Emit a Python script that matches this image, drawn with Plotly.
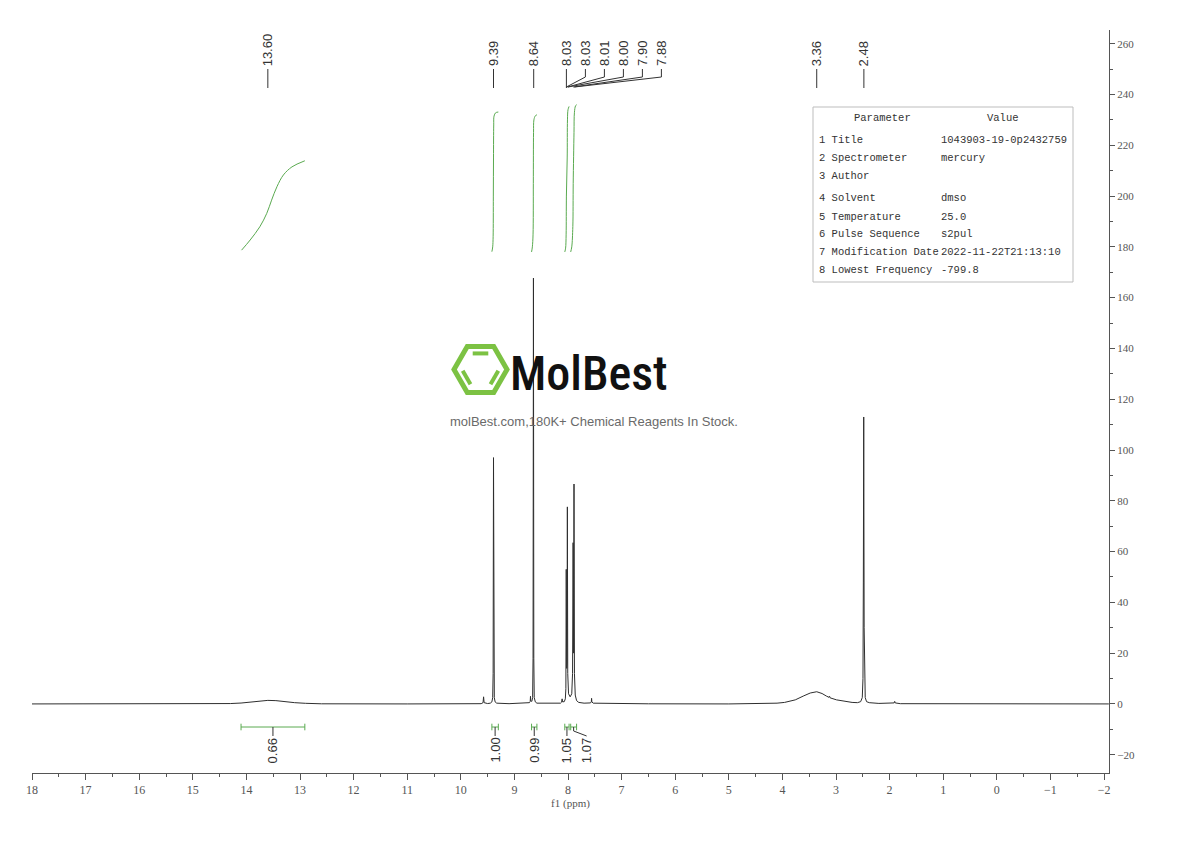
import math
import plotly.graph_objects as go

# ---------------- data ----------------
spec_ppm = [18.0, 16.0, 14.6, 14.3, 14.1, 13.95, 13.8, 13.6, 13.45, 13.3, 13.1, 12.9, 12.6, 11.0,
            9.8, 9.62, 9.585, 9.575, 9.565, 9.5, 9.45, 9.42, 9.405, 9.397, 9.39, 9.383, 9.375, 9.36, 9.33,
            9.1, 8.78, 8.72, 8.705, 8.70, 8.695, 8.675, 8.66, 8.652, 8.645, 8.638, 8.63, 8.61, 8.58,
            8.3, 8.14, 8.12, 8.11, 8.10, 8.07, 8.05, 8.04, 8.033, 8.025, 8.018, 8.012, 8.005, 7.99,
            7.96, 7.93, 7.915, 7.905, 7.895, 7.888, 7.88, 7.865, 7.84, 7.80, 7.70, 7.58, 7.565, 7.56,
            7.555, 7.53, 7.2, 6.5, 5.0, 4.4, 4.1, 3.96, 3.76, 3.6, 3.48, 3.36, 3.26, 3.18, 3.13, 3.12,
            3.11, 2.99, 2.85, 2.7, 2.6, 2.54, 2.51, 2.497, 2.49, 2.483, 2.475, 2.468, 2.455, 2.43, 2.38,
            2.2, 1.93, 1.915, 1.905, 1.895, 1.8, 1.0, 0.0, -1.0, -2.09]
spec_int = [0.0, 0.05, 0.0, 0.15, 0.35, 0.7, 1.1, 1.4, 1.3, 0.9, 0.5, 0.25, 0.05, 0.0,
            0.05, 0.1, 0.5, 2.8, 0.5, 0.15, 0.3, 0.8, 2.5, 12.0, 97.0, 12.0, 2.5, 0.8, 0.3,
            0.1, 0.2, 0.5, 1.0, 3.0, 1.2, 1.0, 2.5, 18.0, 167.7, 18.0, 2.5, 0.8, 0.3,
            0.2, 0.3, 0.7, 2.0, 0.8, 0.9, 2.0, 6.0, 53.0, 14.0, 16.0, 77.6, 12.0, 4.0,
            2.8, 4.0, 12.0, 63.5, 20.0, 86.6, 12.0, 3.5, 1.3, 0.6, 0.3, 0.4, 0.8, 2.2,
            0.8, 0.3, 0.15, 0.05, 0.0, 0.1, 0.3, 0.6, 1.6, 3.2, 4.3, 4.8, 4.1, 3.1, 2.6, 3.0,
            2.4, 1.6, 1.0, 0.6, 0.5, 0.9, 2.5, 10.0, 48.0, 113.0, 30.0, 8.0, 2.5, 0.9, 0.5,
            0.2, 0.15, 0.4, 1.0, 0.4, 0.1, 0.05, 0.0, 0.0, 0.0]

# integral curves (ppm, running integral on the y scale)
int1_ppm = [14.09, 13.93, 13.75, 13.62, 13.53, 13.43, 13.31, 13.15, 12.91]
int1_val = [178.7, 182.7, 187.9, 193.2, 198.4, 203.7, 208.3, 211.5, 213.9]
int2_ppm = [9.42, 9.405, 9.397, 9.393, 9.39, 9.386, 9.38, 9.35, 9.30]
int2_val = [178.1, 180.0, 184.0, 200.0, 215.0, 228.0, 231.5, 232.8, 233.1]
int3_ppm = [8.68, 8.665, 8.652, 8.647, 8.643, 8.636, 8.61, 8.58]
int3_val = [178.0, 180.0, 185.0, 205.0, 225.0, 230.0, 231.6, 232.0]
int4_ppm = [8.06, 8.045, 8.035, 8.03, 8.015, 8.01, 8.0, 7.98]
int4_val = [178.0, 179.5, 185.0, 200.0, 215.0, 230.0, 234.0, 235.3]
int5_ppm = [7.95, 7.93, 7.91, 7.903, 7.888, 7.88, 7.86, 7.84]
int5_val = [178.0, 180.0, 188.0, 205.0, 225.0, 233.0, 235.5, 236.0]

# integration bars and values
intg_from = [14.10, 9.42, 8.68, 8.06, 7.95]
intg_to = [12.91, 9.30, 8.58, 7.98, 7.84]
intg_labels = ["0.66", "1.00", "0.99", "1.05", "1.07"]

# peak picking
peak_ppm = [13.60, 9.39, 8.64, 8.03, 8.03, 8.01, 8.00, 7.90, 7.88, 3.36, 2.48]
peak_labels = ["13.60", "9.39", "8.64", "8.03", "8.03", "8.01", "8.00", "7.90", "7.88", "3.36", "2.48"]

# parameter table
param_names = ["1 Title", "2 Spectrometer", "3 Author", "4 Solvent", "5 Temperature",
               "6 Pulse Sequence", "7 Modification Date", "8 Lowest Frequency"]
param_values = ["1043903-19-0p2432759", "mercury", "", "dmso", "25.0", "s2pul",
                "2022-11-22T21:13:10", "-799.8"]

# ---------------- layout geometry (page pixels) ----------------
BODY = 8  # default page margin of the html body
PX_L, PX_R, PX_T, PX_B = 32, 1109, 30, 773
X0, X1 = 18.0, -2.093
Y0, Y1 = -27.2, 265.4


def vy(p):  # pixel row -> y value
    return Y0 + (PX_B - p) / (PX_B - PX_T) * (Y1 - Y0)


def xp(p):  # pixel column -> ppm
    return X0 + (p - PX_L) / (PX_R - PX_L) * (X1 - X0)


def paper_x(p):
    return (p - PX_L) / (PX_R - PX_L)


def paper_y(p):
    return (PX_B - p) / (PX_B - PX_T)


SPEC_COLOR = "#2e2e2e"
INT_COLOR = "#5aaa50"
TXT_COLOR = "#333333"
AX_COLOR = "#555555"
LABEL_FONT = dict(family="Liberation Sans, Arial, sans-serif", size=13, color=TXT_COLOR)
SERIF = "SimSun, Liberation Serif, Times New Roman, serif"
MONO = "Liberation Mono, Courier New, monospace"

fig = go.Figure()

# logo (below the spectrum)
cx, cy, R = 480.5, 369.5, 26.5
verts = [(cx + R * math.cos(math.radians(a)), cy - R * math.sin(math.radians(a))) for a in range(0, 360, 60)]
path = "M " + " L ".join(f"{paper_x(vx):.5f} {paper_y(vy_):.5f}" for vx, vy_ in verts) + " Z"
shapes = [dict(type="path", path=path, xref="paper", yref="paper",
               line=dict(color="#7cc243", width=5), layer="below")]
r_in = 0.70 * R
for a0, a1 in [(60, 120), (180, 240), (300, 360)]:
    p0 = (cx + r_in * math.cos(math.radians(a0)), cy - r_in * math.sin(math.radians(a0)))
    p1 = (cx + r_in * math.cos(math.radians(a1)), cy - r_in * math.sin(math.radians(a1)))
    s = 0.08
    q0 = (p0[0] + (p1[0] - p0[0]) * s, p0[1] + (p1[1] - p0[1]) * s)
    q1 = (p1[0] + (p0[0] - p1[0]) * s, p1[1] + (p0[1] - p1[1]) * s)
    shapes.append(dict(type="line", xref="paper", yref="paper",
                       x0=paper_x(q0[0]), y0=paper_y(q0[1]), x1=paper_x(q1[0]), y1=paper_y(q1[1]),
                       line=dict(color="#7cc243", width=4), layer="below"))

# table box
shapes.append(dict(type="rect", xref="paper", yref="paper",
                   x0=paper_x(813), x1=paper_x(1073), y0=paper_y(282), y1=paper_y(107),
                   line=dict(color="#bdbdbd", width=1), fillcolor="white", layer="below"))

# spectrum
fig.add_trace(go.Scatter(x=spec_ppm, y=spec_int, mode="lines",
                         line=dict(color=SPEC_COLOR, width=1), hoverinfo="skip"))

# integral curves
for ix, iv in [(int1_ppm, int1_val), (int2_ppm, int2_val), (int3_ppm, int3_val),
               (int4_ppm, int4_val), (int5_ppm, int5_val)]:
    fig.add_trace(go.Scatter(x=ix, y=iv, mode="lines", line=dict(color=INT_COLOR, width=1, shape="spline"),
                             hoverinfo="skip"))

annotations = []

# integration bars
bar_y = vy(727)
cap = 1.3
label_shift_px = [0, 0, 0, 0, 13]
for a, b, lab, sh in zip(intg_from, intg_to, intg_labels, label_shift_px):
    mid = (a + b) / 2
    fig.add_trace(go.Scatter(x=[a, b], y=[bar_y, bar_y], mode="lines",
                             line=dict(color=INT_COLOR, width=1), hoverinfo="skip"))
    for e in (a, b):
        fig.add_trace(go.Scatter(x=[e, e], y=[bar_y - cap, bar_y + cap], mode="lines",
                                 line=dict(color=INT_COLOR, width=1), hoverinfo="skip"))
    lx = mid + (xp(PX_L + sh) - X0)
    fig.add_trace(go.Scatter(x=[mid, mid, lx], y=[bar_y, vy(731), vy(736)], mode="lines",
                             line=dict(color=TXT_COLOR, width=1), hoverinfo="skip"))
    annotations.append(dict(x=lx, y=vy(737), xref="x", yref="y", text=lab, showarrow=False,
                            textangle=-90, xanchor="center", yanchor="top", borderpad=0,
                            font=LABEL_FONT))

# peak labels
cluster_step = xp(PX_L + 19) - X0
label_x = []
k = 0
for i, p in enumerate(peak_ppm):
    if 3 <= i <= 8:
        label_x.append(peak_ppm[3] + k * cluster_step)
        k += 1
    else:
        label_x.append(p)
for lx, p, lab in zip(label_x, peak_ppm, peak_labels):
    if abs(lx - p) < 1e-9:
        fig.add_trace(go.Scatter(x=[p, p], y=[vy(69), vy(88)], mode="lines",
                                 line=dict(color=TXT_COLOR, width=1), hoverinfo="skip"))
    else:
        fig.add_trace(go.Scatter(x=[lx, lx, p], y=[vy(69), vy(77), vy(87)], mode="lines",
                                 line=dict(color=TXT_COLOR, width=1), hoverinfo="skip"))
    annotations.append(dict(x=lx, y=vy(67), xref="x", yref="y", text=lab, showarrow=False,
                            textangle=-90, xanchor="center", yanchor="bottom", borderpad=0,
                            font=LABEL_FONT))

# table text
annotations.append(dict(x=paper_x(882), y=paper_y(118), xref="paper", yref="paper", text="Parameter",
                        showarrow=False, xanchor="center", yanchor="middle",
                        font=dict(family=MONO, size=10.5, color=TXT_COLOR)))
annotations.append(dict(x=paper_x(1003), y=paper_y(118), xref="paper", yref="paper", text="Value",
                        showarrow=False, xanchor="center", yanchor="middle",
                        font=dict(family=MONO, size=10.5, color=TXT_COLOR)))
row_px = [140, 158, 176, 198, 216.5, 234, 252, 270]
for rp, nm, vl in zip(row_px, param_names, param_values):
    annotations.append(dict(x=paper_x(817), y=paper_y(rp), xref="paper", yref="paper", text=nm,
                            showarrow=False, xanchor="left", yanchor="middle",
                            font=dict(family=MONO, size=10.5, color=TXT_COLOR)))
    if vl:
        annotations.append(dict(x=paper_x(939), y=paper_y(rp), xref="paper", yref="paper", text=vl,
                                showarrow=False, xanchor="left", yanchor="middle",
                                font=dict(family=MONO, size=10.5, color=TXT_COLOR)))

# logo text
annotations.append(dict(x=paper_x(508), y=paper_y(373), xref="paper", yref="paper", text="MolBest",
                        showarrow=False, xanchor="left", yanchor="middle",
                        font=dict(family="Liberation Sans Narrow, Roboto Condensed, DejaVu Sans Condensed, Arial Narrow, sans-serif",
                                  size=48, color="#111111", weight=500)))
annotations.append(dict(x=paper_x(594), y=paper_y(421), xref="paper", yref="paper",
                        text="molBest.com,180K+ Chemical Reagents In Stock.",
                        showarrow=False, xanchor="center", yanchor="middle",
                        font=dict(family="Liberation Sans, Arial, sans-serif", size=13, color="#6a6a6a")))

fig.update_layout(
    width=1190, height=841,
    margin=dict(l=PX_L - BODY, r=1190 - PX_R + BODY, t=PX_T - BODY, b=841 - PX_B + BODY),
    plot_bgcolor="white", paper_bgcolor="white", showlegend=False,
    shapes=shapes, annotations=annotations,
    xaxis=dict(range=[X0, X1], showline=True, linecolor=AX_COLOR, linewidth=1,
               ticks="outside", ticklen=6, tickcolor=AX_COLOR, tickmode="linear", tick0=0, dtick=1,
               minor=dict(dtick=0.5, ticklen=3, ticks="outside", tickcolor=AX_COLOR),
               showgrid=False, zeroline=False,
               tickfont=dict(family=SERIF, size=12, color=AX_COLOR),
               title=dict(text="f1 (ppm)", font=dict(family=SERIF, size=11, color=AX_COLOR), standoff=2)),
    yaxis=dict(range=[Y0, Y1], side="right", showline=True, linecolor=AX_COLOR, linewidth=1,
               ticks="outside", ticklen=5, tickcolor=AX_COLOR, tickmode="linear", tick0=0, dtick=20,
               minor=dict(dtick=10, ticklen=3, ticks="outside", tickcolor=AX_COLOR),
               showgrid=False, zeroline=False,
               tickfont=dict(family=SERIF, size=11, color=AX_COLOR)),
)

fig.write_html("out.html")
